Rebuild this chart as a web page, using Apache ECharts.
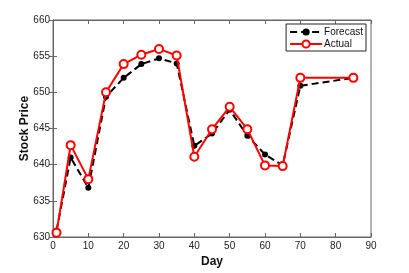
<!DOCTYPE html>
<html><head><meta charset="utf-8">
<script src="https://cdn.jsdelivr.net/npm/echarts@6/dist/echarts.min.js"></script>
<style>html,body{margin:0;padding:0;background:#fff}#c{width:409px;height:273px}</style>
</head><body><div id="c"></div>
<script>
var days = [1, 5, 10, 15, 20, 25, 30, 35, 40, 45, 50, 55, 60, 65, 70, 85];
var forecast = [630.9, 641.0, 636.8, 649.4, 652.0, 653.9, 654.7, 654.0, 642.6, 644.3, 647.6, 644.0, 641.4, 639.9, 650.9, 652.0];
var actual = [630.6, 642.7, 638.0, 650.0, 653.9, 655.2, 656.0, 655.1, 641.1, 644.9, 648.0, 644.9, 639.9, 639.8, 652.0, 652.0];

var chart = echarts.init(document.getElementById('c'));
var axisCol = '#666';
var font = 'Liberation Sans, Arial, sans-serif';
function pairs(ys){ return days.map(function(d,i){ return [d, ys[i]]; }); }
chart.setOption({
  animation: false,
  grid: {left: 53, right: 38, top: 20, bottom: 31, show: true, borderColor: axisCol, borderWidth: 1},
  legend: {
    right: 43, top: 24, orient: 'vertical', itemWidth: 32, itemHeight: 9, itemGap: 2,
    borderColor: '#222', borderWidth: 1, padding: [3, 3, 2, 3], backgroundColor: '#fff',
    textStyle: {fontFamily: font, fontSize: 10, color: '#111', padding: [0,0,0,-3]},
    data: ['Forecast', 'Actual']
  },
  xAxis: [{
    type: 'value', min: 0, max: 90, interval: 10, position: 'bottom',
    name: 'Day', nameLocation: 'middle', nameGap: 19, nameMoveOverlap: false,
    nameTextStyle: {fontFamily: font, fontSize: 12, fontWeight: 'bold', color: '#111'},
    axisLine: {show: true, lineStyle: {color: axisCol}},
    axisTick: {show: true, inside: true, length: 4, lineStyle: {color: axisCol}},
    axisLabel: {fontFamily: font, fontSize: 10, color: '#222', margin: 4},
    splitLine: {show: false}
  }, {
    type: 'value', min: 0, max: 90, interval: 10, position: 'top',
    axisLine: {show: true, lineStyle: {color: axisCol}},
    axisTick: {show: true, inside: true, length: 4, lineStyle: {color: axisCol}},
    axisLabel: {show: false}, splitLine: {show: false}
  }],
  yAxis: [{
    type: 'value', min: 630, max: 660, interval: 5, position: 'left',
    name: 'Stock Price', nameLocation: 'middle', nameGap: 22, nameRotate: 90, nameMoveOverlap: false,
    nameTextStyle: {fontFamily: font, fontSize: 12, fontWeight: 'bold', color: '#111'},
    axisLine: {show: true, lineStyle: {color: axisCol}},
    axisTick: {show: true, inside: true, length: 4, lineStyle: {color: axisCol}},
    axisLabel: {fontFamily: font, fontSize: 10, color: '#222', margin: 3},
    splitLine: {show: false}
  }, {
    type: 'value', min: 630, max: 660, interval: 5, position: 'right',
    axisLine: {show: true, lineStyle: {color: axisCol}},
    axisTick: {show: true, inside: true, length: 4, lineStyle: {color: axisCol}},
    axisLabel: {show: false}, splitLine: {show: false}
  }],
  series: [{
    name: 'Forecast', type: 'line', data: pairs(forecast),
    symbol: 'circle', symbolSize: 6, showAllSymbol: true,
    lineStyle: {color: '#000', width: 2, type: [7, 4]},
    itemStyle: {color: '#000', borderWidth: 0},
    z: 2
  }, {
    name: 'Actual', type: 'line', data: pairs(actual),
    symbol: 'circle', symbolSize: 8, showAllSymbol: true,
    lineStyle: {color: '#f00', width: 2},
    itemStyle: {color: '#fff', borderColor: '#f00', borderWidth: 2},
    z: 3
  }]
});
</script></body></html>
